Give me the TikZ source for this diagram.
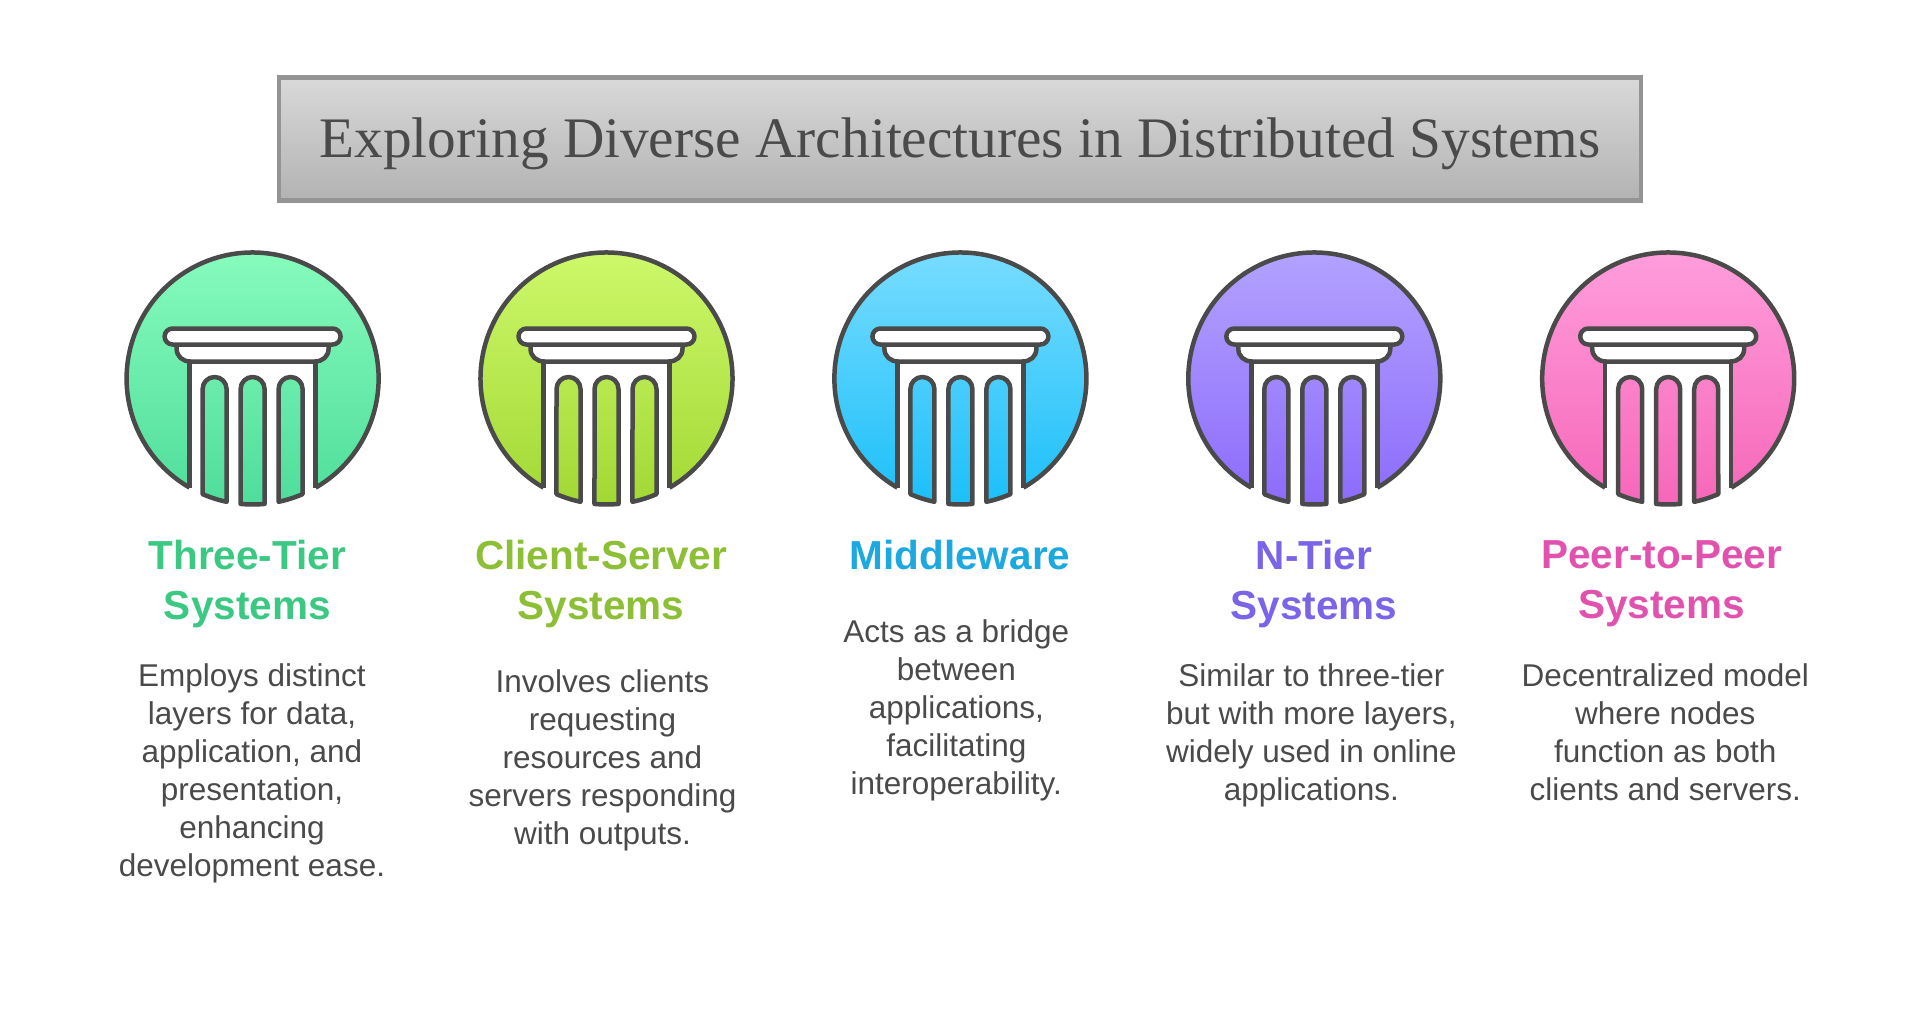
\documentclass[tikz,border=0pt]{standalone}
\usepackage{fontspec}
\setmainfont{Liberation Sans}
\newfontfamily\titlefont{Liberation Serif}
\definecolor{ink}{HTML}{4A4A4A}
\definecolor{greentop}{HTML}{86FBBC}
\definecolor{greenbot}{HTML}{4FDD9B}
\definecolor{greentxt}{HTML}{3BC883}
\definecolor{limetop}{HTML}{CDF86A}
\definecolor{limebot}{HTML}{A2D834}
\definecolor{limetxt}{HTML}{8DBF36}
\definecolor{bluetop}{HTML}{77DCFF}
\definecolor{bluebot}{HTML}{1CBFF9}
\definecolor{bluetxt}{HTML}{1DA9E0}
\definecolor{purpletop}{HTML}{B3A2FF}
\definecolor{purplebot}{HTML}{8C6BFB}
\definecolor{purpletxt}{HTML}{7B64E8}
\definecolor{pinktop}{HTML}{FF9DDB}
\definecolor{pinkbot}{HTML}{F667B9}
\definecolor{pinktxt}{HTML}{E052AE}
\usetikzlibrary{positioning}
\newcommand{\fluteshape}{
(-113.4:126) -- (-50,-10.5) arc[start angle=180,end angle=0,radius=12] -- (-101.9:126) arc[start angle=-101.9,end angle=-113.4,radius=126] -- cycle
(-95.47:126) -- (-12,-10.5) arc[start angle=180,end angle=0,radius=12] -- (-84.53:126) arc[start angle=-84.53,end angle=-95.47,radius=126] -- cycle
(-78.1:126) -- (26,-10.5) arc[start angle=180,end angle=0,radius=12] -- (-66.6:126) arc[start angle=-66.6,end angle=-78.1,radius=126] -- cycle
}
\tikzset{
x=1pt, y=1pt, % one unit is one pixel of the reference
node distance=353.9pt, % the spacing of the columns
outline/.style={draw=ink, line width=4.5pt, line join=round},
heading/.style={align=center, font=\fontsize{40.5}{50.5}\selectfont\bfseries, inner sep=0pt},
bodytext/.style={align=center, text=ink, font=\fontsize{31.5}{38}\selectfont, inner sep=0pt},
pics/pillar/.style n args={2}{code={
	\shade[top color=#1, bottom color=#2] (0,0) circle (126);
	\fill[white, even odd rule] (-63,17) rectangle (63,-135) \fluteshape;
	\draw[outline] (-60:126) arc[start angle=-60,end angle=240,radius=126];
	\draw[outline] (-63,17) -- (-120:126) (63,17) -- (-60:126);
	\draw[outline] \fluteshape;
	\draw[outline, fill=white] (-76,34) -- (-76,30) .. controls (-76,22) and (-70,17) .. (-62,17) -- (62,17) .. controls (70,17) and (76,22) .. (76,30) -- (76,34);
	\draw[outline, fill=white, rounded corners=8pt] (-88,34) rectangle (88,50);
}},
}

\begin{document}
\begin{tikzpicture}
		\useasboundingbox (0,0) rectangle (1920,-1035);
		\node[minimum width=1362pt, minimum height=123pt, top color=black!15, bottom color=black!30, draw=black!42, line width=4.5pt] (banner) at (960,-138.8) {};
		\node[text=ink, font=\titlefont\fontsize{57.3}{60}\selectfont, inner sep=0pt] (title) at (960,-144) {Exploring Diverse Architectures in Distributed Systems};
		% the five pillars
		\coordinate (c1) at (252.6,-378.5);
		\coordinate[right of=c1] (c2);
		\coordinate[right of=c2] (c3);
		\coordinate[right of=c3] (c4);
		\coordinate[right of=c4] (c5);
		\pic at (c1) {pillar={greentop}{greenbot}};
		\pic at (c2) {pillar={limetop}{limebot}};
		\pic at (c3) {pillar={bluetop}{bluebot}};
		\pic at (c4) {pillar={purpletop}{purplebot}};
		\pic at (c5) {pillar={pinktop}{pinkbot}};
		% headings
		\node[heading, text=greentxt] (head1) at (247.3,-584) {Three-Tier\\Systems};
		\node[heading, text=limetxt] (head2) at (601.2,-584) {Client-Server\\Systems};
		\node[heading, text=bluetxt] (head3) at (960,-555) {Middleware};
		\node[heading, text=purpletxt] (head4) at (1313.9,-584) {N-Tier\\Systems};
		\node[heading, text=pinktxt] (head5) at (1661.7,-584) {Peer-to-Peer\\Systems};
		% descriptions
		\node[bodytext] (text1) at (252,-773.5) {Employs distinct\\layers for data,\\application, and\\presentation,\\enhancing\\development ease.};
		\node[bodytext] (text2) at (602.5,-760.5) {Involves clients\\requesting\\resources and\\servers responding\\with outputs.};
		\node[bodytext] (text3) at (956.3,-710) {Acts as a bridge\\between\\applications,\\facilitating\\interoperability.};
		\node[bodytext] (text4) at (1311.4,-735.5) {Similar to three-tier\\but with more layers,\\widely used in online\\applications.};
		\node[bodytext] (text5) at (1665.3,-732.5) {Decentralized model\\where nodes\\function as both\\clients and servers.};
	\end{tikzpicture}
\end{document}
